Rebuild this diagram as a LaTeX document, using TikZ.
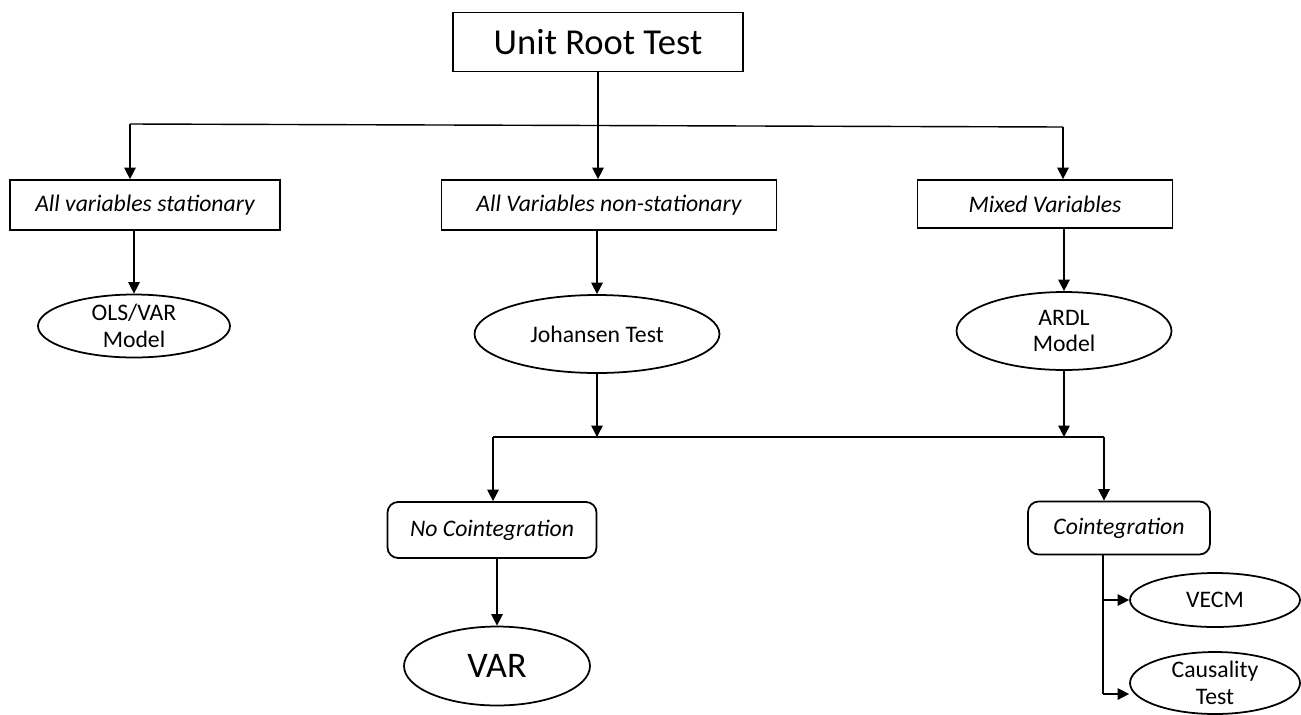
\documentclass[tikz,border=0pt]{standalone}
\usepackage{fontspec}
\setmainfont{Carlito}
\usetikzlibrary{arrows.meta,shapes.geometric}

\begin{document}
\begin{tikzpicture}[
  x=0.02cm, y=-0.02cm,
  box/.style={
    draw, line width=1pt, rectangle,
    font=\fontsize{13.5}{15}\selectfont\itshape, inner sep=0pt
  },
  rbox/.style={box, rounded corners=6pt},
  oval/.style={
    draw, line width=1pt, ellipse,
    font=\fontsize{13.5}{15}\selectfont, align=center, inner sep=0pt
  },
  link/.style={line width=0.8pt},
  arr/.style={link, -{Triangle[length=6.5pt, width=6.5pt]}},
]

\useasboundingbox (0,0) rectangle (1301,714);

% top level
\node[box, font=\fontsize{20.8}{22}\selectfont, minimum width=5.8cm, minimum height=1.18cm]
  (urt) at (598,42) {Unit Root Test};

% first split
\node[box, minimum width=5.4cm, minimum height=1cm] (stat) at (145,205) {All variables stationary};
\node[box, minimum width=6.7cm, minimum height=1cm] (nonstat) at (609,205) {All Variables non-stationary};
\node[box, minimum width=5.1cm, minimum height=0.96cm] (mixed) at (1045,204) {Mixed Variables};

\node[oval, minimum width=3.84cm, minimum height=1.26cm] (ols) at (134,326) {OLS/VAR\\Model};
\node[oval, minimum width=4.9cm, minimum height=1.56cm] (joh) at (597,334) {Johansen Test};
\node[oval, minimum width=4.3cm, minimum height=1.56cm] (ardl) at (1064,331) {ARDL\\Model};

% second split
\node[rbox, minimum width=4.18cm, minimum height=1.12cm] (nocoint) at (492,530) {No Cointegration};
\node[rbox, minimum width=3.64cm, minimum height=1.06cm] (coint) at (1119,528) {Cointegration};

\node[oval, font=\fontsize{20.5}{22}\selectfont, minimum width=3.72cm, minimum height=1.58cm]
  (var) at (497,666) {VAR};
\node[oval, minimum width=3.4cm, minimum height=1.08cm] (vecm) at (1215,600) {VECM};
\node[oval, minimum width=3.4cm, minimum height=1.24cm] (caus) at (1215,683) {Causality\\Test};

% connectors
\coordinate (tl) at (130,124);
\coordinate (tr) at (1063,127);
\draw[link] (tl) -- (tr);
\draw[arr] (urt.south) -- (urt.south |- nonstat.north);
\draw[arr] (tl) -- (tl |- stat.north);
\draw[arr] (tr) -- (tr |- mixed.north);

\draw[arr] (ols.north |- stat.south) -- (ols.north);
\draw[arr] (joh.north |- nonstat.south) -- (joh.north);
\draw[arr] (ardl.north |- mixed.south) -- (ardl.north);

\coordinate (ml) at (493,437);
\coordinate (mr) at (1104,437);
\draw[link] (ml) -- (mr);
\draw[arr] (joh.south) -- (joh.south |- ml);
\draw[arr] (ardl.south) -- (ardl.south |- ml);
\draw[arr] (ml) -- (ml |- nocoint.north);
\draw[arr] (mr) -- (mr |- coint.north);

\draw[arr] (var.north |- nocoint.south) -- (var.north);

\coordinate (cb) at (1103,694);
\draw[link] (coint.south -| cb) -- (cb);
\draw[arr] (vecm.west -| cb) -- (vecm.west);
\draw[arr] (cb) -- (cb -| caus.west);

\end{tikzpicture}
\end{document}
